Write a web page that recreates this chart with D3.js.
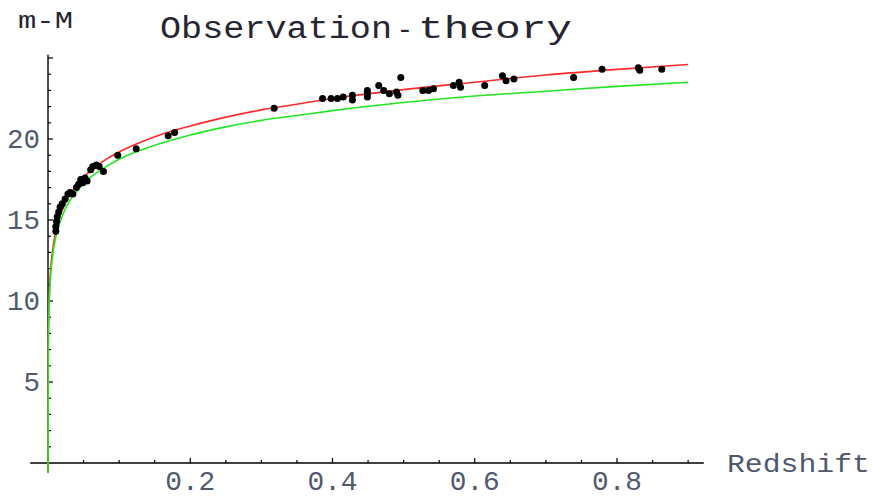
<!DOCTYPE html>
<html>
<head>
<meta charset="utf-8">
<script src="https://cdnjs.cloudflare.com/ajax/libs/d3/7.8.5/d3.min.js"></script>
<style>
  body { margin: 0; background: #fff; }
  text { font-family: "Liberation Mono", "DejaVu Sans Mono", monospace; }
</style>
</head>
<body>
<div id="chart"></div>
<script>
// observed supernovae: redshift, m-M
var obsZ = [0.011, 0.011, 0.012, 0.013, 0.015, 0.017, 0.020, 0.024, 0.028, 0.031,
    0.035, 0.040, 0.043, 0.046, 0.049, 0.052, 0.055, 0.060, 0.063, 0.068,
    0.072, 0.078, 0.098, 0.124, 0.169, 0.178, 0.318, 0.386, 0.398, 0.407,
    0.415, 0.428, 0.428, 0.449, 0.449, 0.449, 0.465, 0.472, 0.480, 0.490,
    0.492, 0.496, 0.527, 0.535, 0.542, 0.570, 0.578, 0.580, 0.614, 0.639,
    0.644, 0.655, 0.739, 0.779, 0.830, 0.832, 0.863];
var obsMM = [14.3, 14.6, 14.9, 15.2, 15.5, 15.8, 16.0, 16.3, 16.6, 16.7,
    16.6, 17.0, 17.2, 17.5, 17.3, 17.6, 17.4, 18.1, 18.3, 18.4,
    18.3, 18.0, 19.0, 19.4, 20.2, 20.4, 21.9, 22.5, 22.5, 22.5,
    22.6, 22.7, 22.4, 23.0, 22.8, 22.6, 23.3, 23.0, 22.8, 22.9,
    22.7, 23.8, 23.0, 23.0, 23.1, 23.3, 23.5, 23.2, 23.3, 23.9,
    23.6, 23.7, 23.8, 24.3, 24.4, 24.25, 24.3];

// theory curves
var curveZ = [0, 0.0005, 0.001, 0.002, 0.004, 0.007, 0.01, 0.015, 0.02, 0.03,
    0.04, 0.06, 0.08, 0.1, 0.13, 0.16, 0.2, 0.25, 0.3, 0.35,
    0.4, 0.5, 0.6, 0.7, 0.8, 0.9];
var redMM = [-0.6, 7.6, 9.1, 10.6, 12.1, 13.3, 14.1, 15.0, 15.6, 16.5,
    17.15, 18.05, 18.7, 19.2, 19.8, 20.3, 20.8, 21.35, 21.8, 22.15,
    22.5, 23.05, 23.5, 23.95, 24.3, 24.6];
var greenMM = [-0.6, 7.25, 8.75, 10.25, 11.75, 12.95, 13.75, 14.6, 15.25, 16.15,
    16.75, 17.65, 18.25, 18.75, 19.3, 19.75, 20.25, 20.75, 21.15, 21.45,
    21.75, 22.25, 22.65, 22.95, 23.25, 23.5];

var xMajor = [0.2, 0.4, 0.6, 0.8];
var yMajor = [5, 10, 15, 20];

var width = 872, height = 497;

var svg = d3.select("#chart").append("svg")
    .attr("width", width)
    .attr("height", height)
    .attr("xmlns", "http://www.w3.org/2000/svg");

var x = d3.scaleLinear().domain([0, 0.8]).range([48, 617]);
var y = d3.scaleLinear().domain([0, 20]).range([463, 139]);

var labelColor = "#4f5a6e";
var darkText = "#262633";

// axes lines
svg.append("line")
    .attr("x1", x(-0.025)).attr("x2", x(0.922))
    .attr("y1", y(0)).attr("y2", y(0))
    .style("stroke", "#000").style("stroke-width", 1.4);
svg.append("line")
    .attr("x1", x(0)).attr("x2", x(0))
    .attr("y1", y(25.2)).attr("y2", y(-0.6))
    .style("stroke", "#000").style("stroke-width", 1.4);

// x ticks: major every 0.2, minor every 0.05
var xMinor = d3.range(1, 19).map(function(i) { return i * 0.05; });
xMinor.forEach(function(v) {
    var major = xMajor.some(function(m) { return Math.abs(m - v) < 1e-6; });
    svg.append("line")
        .attr("x1", x(v)).attr("x2", x(v))
        .attr("y1", y(0)).attr("y2", y(0) - (major ? 5 : 3))
        .style("stroke", "#000").style("stroke-width", 1.2);
});
xMajor.forEach(function(v) {
    svg.append("text")
        .attr("x", x(v))
        .attr("y", 490)
        .attr("text-anchor", "middle")
        .attr("textLength", 50)
        .attr("lengthAdjust", "spacingAndGlyphs")
        .style("font-size", "27px")
        .style("fill", labelColor)
        .text(d3.format(".1f")(v));
});

// y ticks: major every 5, minor every 1
d3.range(1, 26).forEach(function(v) {
    var major = v % 5 == 0;
    svg.append("line")
        .attr("x1", x(0)).attr("x2", x(0) + (major ? 5 : 3))
        .attr("y1", y(v)).attr("y2", y(v))
        .style("stroke", "#000").style("stroke-width", 1.2);
});
yMajor.forEach(function(v) {
    var s = String(v);
    svg.append("text")
        .attr("x", 40)
        .attr("y", y(v) + 9)
        .attr("text-anchor", "end")
        .attr("textLength", s.length * 16.5)
        .attr("lengthAdjust", "spacingAndGlyphs")
        .style("font-size", "27px")
        .style("fill", labelColor)
        .text(s);
});

// curves
var line = d3.line()
    .x(function(d) { return x(d[0]); })
    .y(function(d) { return y(d[1]); })
    .curve(d3.curveMonotoneX);

svg.append("path")
    .datum(curveZ.map(function(z, i) { return [z, redMM[i]]; }))
    .attr("d", line)
    .style("fill", "none")
    .style("stroke", "#ff2a2a")
    .style("stroke-width", 1.6);

svg.append("path")
    .datum(curveZ.map(function(z, i) { return [z, greenMM[i]]; }))
    .attr("d", line)
    .style("fill", "none")
    .style("stroke", "#22e622")
    .style("stroke-width", 1.6);

// observations
svg.selectAll("circle.obs")
    .data(obsZ.map(function(z, i) { return [z, obsMM[i]]; }))
    .enter().append("circle")
    .attr("class", "obs")
    .attr("cx", function(d) { return x(d[0]); })
    .attr("cy", function(d) { return y(d[1]); })
    .attr("r", 3.5)
    .style("fill", "#000");

// title, set in three pieces like the original spacing
svg.append("text")
    .attr("x", 160).attr("y", 38)
    .attr("textLength", 232)
    .attr("lengthAdjust", "spacingAndGlyphs")
    .style("font-size", "31px")
    .style("fill", darkText)
    .text("Observation");
svg.append("text")
    .attr("x", 405).attr("y", 38)
    .attr("text-anchor", "middle")
    .style("font-size", "28px")
    .style("fill", darkText)
    .text("-");
svg.append("text")
    .attr("x", 418).attr("y", 38)
    .attr("textLength", 154)
    .attr("lengthAdjust", "spacingAndGlyphs")
    .style("font-size", "31px")
    .style("fill", darkText)
    .text("theory");

svg.append("text")
    .attr("x", 18).attr("y", 28)
    .attr("textLength", 55)
    .attr("lengthAdjust", "spacingAndGlyphs")
    .style("font-size", "24px")
    .style("fill", darkText)
    .text("m-M");

svg.append("text")
    .attr("x", 727).attr("y", 472)
    .attr("textLength", 143)
    .attr("lengthAdjust", "spacingAndGlyphs")
    .style("font-size", "25px")
    .style("fill", labelColor)
    .text("Redshift");
</script>
</body>
</html>
